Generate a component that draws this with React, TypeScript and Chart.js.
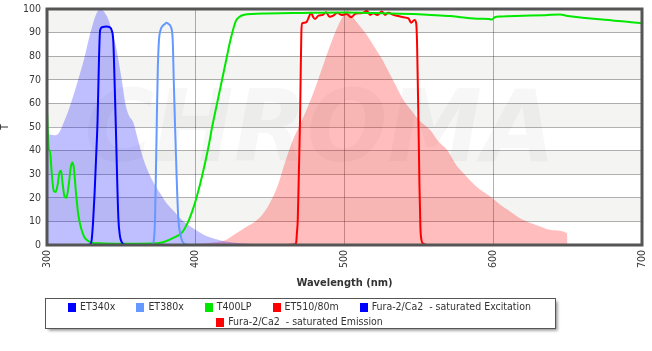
import React, { useEffect, useRef } from 'react';
import { Chart, registerables } from 'chart.js';

Chart.register(...registerables);

const FONT = '"DejaVu Sans Condensed", "DejaVu Sans", sans-serif';

const seriesLabels = [
  'ET340x',
  'ET380x',
  'T400LP',
  'ET510/80m',
  'Fura-2/Ca2  - saturated Excitation',
  'Fura-2/Ca2  - saturated Emission',
];
const seriesColors = ['#0000ff', '#6699ff', '#00e800', '#ff0000', '#0000ff', '#ff0000'];

const xTicks = [300, 400, 500, 600, 700];
const yTicks = [0, 10, 20, 30, 40, 50, 60, 70, 80, 90, 100];

// ET340x
const et340Wl = [326, 329, 330, 331, 332, 333, 334, 335, 335.7, 337, 340, 342, 343.5, 344.6, 345.4, 346.2, 347, 348, 349, 350, 351.5, 354];
const et340T = [0, 0.3, 2, 10, 22, 37, 53, 80, 91, 92.3, 92.6, 92.3, 91, 86, 70, 52, 32, 11, 4, 1.5, 0.3, 0];

// ET380x
const et380Wl = [368, 371, 372, 372.6, 373.2, 373.8, 374.5, 375.3, 376.3, 377.3, 379, 380.5, 382, 383.2, 384.5, 385.2, 386.1, 387.2, 388.3, 389.5, 391, 393, 396];
const et380T = [0, 0.3, 3, 10.6, 30, 52, 75, 87, 91, 92.5, 93.5, 94.2, 93.5, 92.5, 87, 70, 50, 28, 11, 5, 1.5, 0.3, 0];

// T400LP
const t400Wl = [300, 300.7, 301.3, 302, 303, 304.5, 305.8, 307, 308.5, 309.5, 310.5, 311.8, 313, 314.5, 316, 317, 318, 319.5, 321, 323, 325, 327, 330, 335, 350, 370, 378, 385, 391, 395, 398, 400, 403, 406, 409, 411, 414, 418, 421, 423, 425, 427, 429, 432, 448, 470, 500, 520, 546, 558, 571, 580, 591, 597, 599, 601, 605, 620, 635, 645, 650, 660, 675, 690, 700];
const t400T = [57, 46, 40, 40, 32, 23, 22.5, 25, 31, 31.5, 26, 20.5, 20, 25, 33, 35, 33, 22, 13, 7, 3.5, 2, 1, 0.7, 0.5, 0.6, 1.2, 3, 5.5, 10, 15, 19, 26, 34, 43, 50, 59, 71, 80, 86, 91, 95, 96.5, 97.5, 98.1, 98.3, 98.5, 98.3, 97.9, 97.5, 97, 96.4, 95.9, 95.8, 95.5, 96.5, 96.8, 97.1, 97.4, 97.7, 97, 96.3, 95.4, 94.6, 93.9];

// ET510/80m
const et510Wl = [462, 466.5, 467.5, 468, 468.6, 469.3, 470.1, 470.6, 471, 471.5, 473, 474.6, 476, 477.5, 479, 480.2, 482.5, 485.4, 487.6, 489.9, 492.5, 495.2, 498.2, 501.5, 504.4, 507.1, 510, 512.7, 515, 517.2, 519.4, 522.1, 525.1, 527.3, 529.5, 532.9, 536.3, 539.6, 543, 544.8, 547, 548.2, 548.8, 549.7, 550.4, 551, 551.5, 553, 556];
const et510T = [0, 0.2, 1, 5, 11, 30, 53, 75, 90, 93.9, 94.2, 94.6, 96.5, 98.4, 96.5, 95.8, 97.2, 97.5, 98.6, 96.7, 97.2, 98.4, 97.5, 97.9, 96.5, 97.9, 98.2, 98.4, 99.3, 97.5, 98.2, 97.5, 98.9, 97.5, 98.4, 97.5, 97, 96.5, 96, 94.2, 95.3, 93.9, 85, 53, 25, 8, 3, 0.5, 0];

// Fura-2/Ca2 - saturated Excitation
const furaExWl = [300, 305, 308, 310, 315, 320, 325, 328, 331, 334, 336, 338, 341, 344, 347, 350, 353, 355, 358, 361, 364, 368, 372, 376, 380, 385, 390, 395, 400, 405, 410, 415, 420, 430, 440, 450];
const furaExT = [47, 46.5, 47.5, 50, 58, 68, 79, 87, 94, 99, 100, 99, 96, 90, 82, 71, 59, 55, 52, 45, 38, 31, 26, 22, 18, 14.5, 11, 8.5, 6.4, 4.5, 3.2, 2.2, 1.5, 0.7, 0.3, 0];

// Fura-2/Ca2 - saturated Emission
const furaEmWl = [400, 410, 420, 425, 430, 435, 440, 445, 450, 455, 460, 465, 470, 475, 480, 485, 490, 495, 500, 502, 505, 510, 515, 520, 525, 530, 535, 540, 545, 550, 557.6, 563, 569, 575, 580, 590, 598, 605, 610, 618, 625, 631.5, 640, 649.5, 650];
const furaEmT = [0.5, 1, 2, 4, 6, 8, 10, 13, 18, 25, 35, 44, 51, 58, 66, 75, 84, 92, 98, 99.6, 97, 93, 89, 84, 79, 73, 67, 61, 57, 53, 48.7, 44, 40.3, 34, 30.4, 24, 20.5, 17, 14.8, 11.3, 9.3, 7.8, 6.2, 5, 0];

const zip = (xs: number[], ys: number[]) => xs.map((x, i) => ({ x, y: ys[i] }));

const bandsPlugin = {
  id: 'bands',
  beforeDraw(chart: any) {
    const { ctx, chartArea } = chart;
    const y = chart.scales.y;
    ctx.save();
    ctx.fillStyle = '#ffffff';
    ctx.fillRect(chartArea.left, chartArea.top, chartArea.right - chartArea.left, chartArea.bottom - chartArea.top);
    for (let i = 0; i < 10; i++) {
      if (i % 2 === 1) {
        const t = y.getPixelForValue((i + 1) * 10);
        const b = y.getPixelForValue(i * 10);
        ctx.fillStyle = '#f4f4f2';
        ctx.fillRect(chartArea.left, t, chartArea.right - chartArea.left, b - t);
      }
    }
    ctx.restore();
  },
  beforeDatasetsDraw(chart: any) {
    const { ctx, chartArea } = chart;
    ctx.save();
    ctx.beginPath();
    ctx.rect(chartArea.left, chartArea.top, chartArea.right - chartArea.left, chartArea.bottom - chartArea.top);
    ctx.clip();
    ctx.fillStyle = 'rgba(0,0,0,0.03)';
    ctx.font = 'italic bold 100px "DejaVu Sans", sans-serif';
    ctx.textAlign = 'center';
    ctx.textBaseline = 'middle';
    ctx.translate(320, 135);
    ctx.scale(0.95, 1);
    ctx.fillText('CHROMA', 0, 0);
    ctx.restore();
  },
  afterDatasetsDraw(chart: any) {
    const { ctx, chartArea } = chart;
    ctx.save();
    ctx.strokeStyle = '#555555';
    ctx.lineWidth = 3;
    ctx.strokeRect(chartArea.left, chartArea.top, chartArea.right - chartArea.left, chartArea.bottom - chartArea.top);
    ctx.restore();
  },
  afterDraw(chart: any) {
    const { ctx } = chart;
    ctx.save();
    const bx = 45.5, by = 298.5, bw = 510, bh = 30;
    ctx.shadowColor = 'rgba(0,0,0,0.45)';
    ctx.shadowOffsetX = 2;
    ctx.shadowOffsetY = 2;
    ctx.shadowBlur = 3;
    ctx.fillStyle = '#ffffff';
    ctx.fillRect(bx, by, bw, bh);
    ctx.shadowColor = 'transparent';
    ctx.strokeStyle = '#555555';
    ctx.lineWidth = 1;
    ctx.strokeRect(bx, by, bw, bh);

    ctx.font = '10.5px ' + FONT;
    ctx.textBaseline = 'middle';
    ctx.textAlign = 'left';
    const rows = [[0, 1, 2, 3, 4], [5]];
    const rowY = [307.7, 322.3];
    const cx = 299.5;
    rows.forEach((row, r) => {
      const widths = row.map((i) => 12 + ctx.measureText(seriesLabels[i]).width);
      const total = widths.reduce((a, b) => a + b, 0) + 21 * (row.length - 1);
      let x = cx - total / 2;
      row.forEach((i, k) => {
        ctx.fillStyle = seriesColors[i];
        ctx.fillRect(Math.round(x), Math.round(rowY[r] - 4.5), 8, 9);
        ctx.fillStyle = '#333333';
        ctx.fillText(seriesLabels[i], x + 12, rowY[r]);
        x += widths[k] + 21;
      });
    });
    ctx.restore();
  },
};

export default function App() {
  const ref = useRef<HTMLCanvasElement | null>(null);
  useEffect(() => {
    document.body.style.margin = '0';
    if (!ref.current) return;
    const lineDs = (i: number, wl: number[], t: number[]) => ({
      label: seriesLabels[i],
      data: zip(wl, t),
      borderColor: seriesColors[i],
      backgroundColor: seriesColors[i],
      borderWidth: 2,
      pointRadius: 0,
      fill: false,
      cubicInterpolationMode: 'monotone' as const,
    });
    const fillDs = (i: number, wl: number[], t: number[], bg: string) => ({
      label: seriesLabels[i],
      data: zip(wl, t),
      borderColor: 'rgba(0,0,0,0)',
      backgroundColor: bg,
      borderWidth: 0,
      pointRadius: 0,
      fill: 'origin',
      cubicInterpolationMode: 'monotone' as const,
    });
    const chart = new Chart(ref.current, {
      type: 'line',
      data: {
        datasets: [
          lineDs(0, et340Wl, et340T),
          lineDs(1, et380Wl, et380T),
          lineDs(2, t400Wl, t400T),
          lineDs(3, et510Wl, et510T),
          fillDs(4, furaExWl, furaExT, 'rgba(0,0,255,0.25)'),
          fillDs(5, furaEmWl, furaEmT, 'rgba(255,0,0,0.26)'),
        ] as any,
      },
      options: {
        animation: false,
        responsive: false,
        layout: { padding: { left: 0, right: 10, top: 9, bottom: 57 } },
        plugins: { legend: { display: false }, tooltip: { enabled: false } },
        scales: {
          x: {
            type: 'linear',
            min: 300,
            max: 700,
            afterBuildTicks: (s: any) => {
              s.ticks = xTicks.map((v) => ({ value: v }));
            },
            afterFit: (s: any) => {
              s.height = 49;
              s.paddingLeft = 0;
              s.paddingRight = 0;
            },
            ticks: {
              minRotation: 90,
              maxRotation: 90,
              padding: 5,
              color: '#3a3a3a',
              font: { family: FONT, size: 10.5 },
            },
            grid: { color: 'rgba(0,0,0,0.3)', drawTicks: false },
            border: { display: false },
            title: {
              display: true,
              text: 'Wavelength (nm)',
              color: '#333333',
              font: { family: FONT, size: 11, weight: 'bold' },
              padding: { top: 4, bottom: 4 },
            },
          },
          y: {
            type: 'linear',
            min: 0,
            max: 100,
            afterBuildTicks: (s: any) => {
              s.ticks = yTicks.map((v) => ({ value: v }));
            },
            afterFit: (s: any) => {
              s.width = 47;
              s.paddingTop = 0;
              s.paddingBottom = 0;
            },
            ticks: {
              padding: 6,
              color: '#3a3a3a',
              font: { family: FONT, size: 10.5 },
            },
            grid: { color: 'rgba(0,0,0,0.3)', drawTicks: false },
            border: { display: false },
            title: {
              display: true,
              text: 'T',
              color: '#333333',
              font: { family: FONT, size: 10, lineHeight: 1 },
              padding: { top: 0, bottom: 0 },
            },
          },
        },
      } as any,
      plugins: [bandsPlugin],
    });
    return () => chart.destroy();
  }, []);
  return (
    <div style={{ width: 652, height: 351 }}>
      <canvas ref={ref} width={652} height={351} style={{ display: 'block', width: 652, height: 351 }} />
    </div>
  );
}
